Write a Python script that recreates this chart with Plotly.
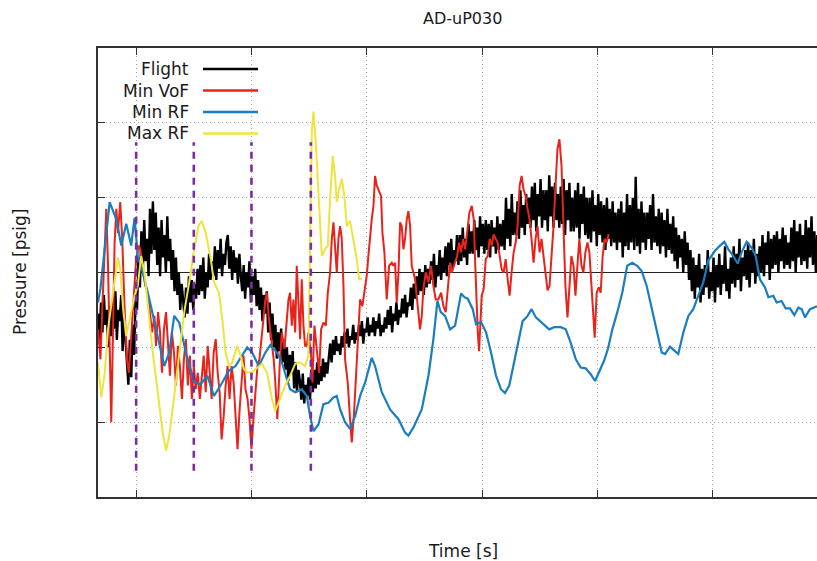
import plotly.graph_objects as go

# ---------------- data ----------------
TITLE = "AD-uP030"
X_LABEL = "Time [s]"
Y_LABEL = "Pressure [psig]"
SERIES_NAMES = ["Flight", "Min VoF", "Min RF", "Max RF"]

X_RANGE = [0.669, 6.905]
Y_RANGE = [-3, 3]

# Flight: sampled every FLIGHT_DT starting at FLIGHT_T0
FLIGHT_T0 = 0.67
FLIGHT_DT = 0.0125
FLIGHT_P = [
    -0.55, -0.95, -0.4, -0.8, -0.3, -0.7, -0.5, -1.0, -0.45, -0.85,
    -0.35, -0.75, -0.25, -0.9, -0.5, -0.65, -0.3, -1.05, -0.6, -0.95,
    -1.2, -1.5, -0.9, -1.4, -0.7, -1.1, -0.3, -0.5, 0.2, -0.2,
    0.55, 0.0, 0.7, 0.15, 0.45, -0.05, 0.85, 0.25, 0.95, 0.3,
    0.8, 0.1, 0.6, -0.05, 0.7, 0.2, 0.5, 0.0, 0.75, 0.15,
    0.45, -0.1, 0.3, -0.25, 0.2, -0.3, 0.0, -0.5, -0.15, -0.45,
    -0.6, -0.2, -0.55, -0.05, -0.4, -0.1, -0.5, -0.15, -0.35, 0.05,
    -0.3, 0.1, -0.25, 0.2, -0.35, 0.0, -0.2, 0.25, -0.1, 0.15,
    -0.05, 0.35, -0.1, 0.3, 0.05, 0.45, -0.05, 0.25, 0.1, 0.4,
    0.5, 0.05, 0.35, -0.1, 0.3, 0.0, 0.2, -0.15, 0.25, -0.05,
    -0.25, 0.1, -0.35, 0.0, -0.2, 0.15, -0.4, -0.05, -0.3, 0.05,
    -0.45, -0.1, -0.5, -0.2, -0.65, -0.3, -0.55, -0.25, -0.8, -0.4,
    -0.9, -0.55, -1.0, -0.7, -1.15, -0.8, -1.05, -0.75, -1.2, -0.9,
    -1.3, -1.0, -1.45, -1.1, -1.35, -1.05, -1.55, -1.2, -1.6, -1.3,
    -1.45, -1.7, -1.35, -1.75, -1.5, -1.65, -1.4, -1.7, -1.3, -1.6,
    -1.3, -1.55, -1.2, -1.5, -1.25, -1.45, -1.15, -1.4, -1.2, -1.35,
    -1.15, -0.95, -1.2, -0.9, -1.1, -0.85, -1.05, -0.95, -1.1, -0.85,
    -1.0, -0.8, -0.95, -0.75, -1.0, -0.85, -0.9, -0.7, -0.95, -0.8,
    -0.9, -0.7, -0.85, -0.65, -0.95, -0.75, -0.8, -0.6, -0.85, -0.7,
    -0.8, -0.6, -0.85, -0.65, -0.75, -0.55, -0.85, -0.7, -0.8, -0.6,
    -0.75, -0.5, -0.7, -0.45, -0.8, -0.55, -0.65, -0.4, -0.7, -0.5,
    -0.6, -0.35, -0.55, -0.3, -0.6, -0.4, -0.45, -0.2, -0.5, -0.15,
    -0.35, -0.05, -0.3, 0.05, -0.25, 0.0, -0.3, 0.1, -0.2, 0.05,
    -0.15, 0.15, -0.1, 0.25, -0.2, 0.1, -0.05, 0.3, -0.1, 0.2,
    0.0, 0.35, -0.05, 0.4, 0.1, 0.45, 0.05, 0.3, 0.15, 0.5,
    0.1, 0.5, 0.15, 0.6, 0.2, 0.45, 0.1, 0.65, 0.25, 0.55,
    0.25, 0.7, 0.3, 0.6, 0.2, 0.75, 0.35, 0.65, 0.25, 0.7,
    0.3, 0.65, 0.2, 0.7, 0.35, 0.6, 0.25, 0.75, 0.3, 0.65,
    0.35, 0.7, 0.3, 1.0, 0.45, 0.85, 0.35, 1.05, 0.5, 0.8,
    0.5, 0.95, 0.45, 1.1, 0.6, 0.9, 0.5, 1.05, 0.65, 1.0,
    0.6, 1.15, 0.7, 1.2, 0.55, 1.05, 0.75, 1.25, 0.6, 1.1,
    0.7, 1.1, 0.55, 1.3, 0.75, 1.15, 0.6, 1.2, 0.7, 1.05,
    0.6, 1.15, 0.65, 1.25, 0.5, 1.1, 0.7, 1.2, 0.55, 1.0,
    0.55, 1.1, 0.6, 1.2, 0.45, 1.05, 0.65, 1.15, 0.5, 1.0,
    0.45, 1.0, 0.4, 1.1, 0.55, 0.9, 0.35, 1.05, 0.5, 0.95,
    0.4, 0.9, 0.3, 1.0, 0.45, 0.85, 0.35, 0.95, 0.4, 0.8,
    0.3, 0.85, 0.4, 0.95, 0.2, 0.8, 0.35, 1.05, 0.3, 0.9,
    0.4, 1.0, 0.3, 1.28, 0.35, 0.85, 0.25, 0.95, 0.4, 0.8,
    0.3, 0.8, 0.45, 0.9, 0.3, 1.05, 0.4, 0.75, 0.35, 0.85,
    0.25, 0.8, 0.35, 0.7, 0.2, 0.85, 0.3, 0.65, 0.25, 0.75,
    0.15, 0.6, 0.05, 0.5, 0.2, 0.45, 0.0, 0.55, 0.1, 0.4,
    -0.1, 0.3, -0.25, 0.2, -0.35, 0.1, -0.2, 0.25, -0.4, 0.05,
    -0.3, 0.1, -0.2, 0.3, -0.35, 0.0, -0.25, 0.2, -0.4, 0.1,
    -0.2, 0.25, -0.3, 0.1, -0.15, 0.35, -0.25, 0.05, -0.35, 0.2,
    -0.15, 0.35, -0.2, 0.25, -0.1, 0.45, -0.25, 0.2, -0.05, 0.3,
    -0.1, 0.4, -0.2, 0.3, 0.0, 0.45, -0.15, 0.25, -0.05, 0.35,
    0.0, 0.5, -0.05, 0.4, 0.1, 0.55, -0.1, 0.45, 0.05, 0.5,
    0.1, 0.55, 0.0, 0.45, 0.15, 0.6, 0.05, 0.5, 0.1, 0.4,
    0.05, 0.6, 0.15, 0.7, 0.0, 0.55, 0.2, 0.65, 0.1, 0.5,
    0.15, 0.7, 0.05, 0.6, 0.2, 0.75, 0.1, 0.55, 0.0, 0.5,
]

MINVOF_T = [
    0.670, 0.690, 0.707, 0.727, 0.741, 0.756, 0.770, 0.784, 0.799, 0.813,
    0.828, 0.842, 0.862, 0.879, 0.899, 0.920, 0.937, 0.957, 0.977, 1.000,
    1.023, 1.037, 1.057, 1.080, 1.101, 1.121, 1.138, 1.158, 1.172, 1.190,
    1.207, 1.224, 1.241, 1.259, 1.276, 1.293, 1.310, 1.328, 1.345, 1.362,
    1.379, 1.397, 1.414, 1.431, 1.448, 1.466, 1.483, 1.500, 1.517, 1.534,
    1.552, 1.569, 1.586, 1.603, 1.621, 1.638, 1.655, 1.672, 1.690, 1.707,
    1.724, 1.741, 1.759, 1.776, 1.793, 1.810, 1.828, 1.845, 1.862, 1.879,
    1.897, 1.914, 1.931, 1.948, 1.966, 1.983, 2.000, 2.017, 2.034, 2.052,
    2.069, 2.086, 2.106, 2.121, 2.135, 2.149, 2.172, 2.193, 2.207, 2.224,
    2.246, 2.263, 2.286, 2.303, 2.321, 2.335, 2.350, 2.364, 2.379, 2.393,
    2.408, 2.422, 2.436, 2.451, 2.465, 2.480, 2.494, 2.517, 2.529, 2.546,
    2.566, 2.587, 2.604, 2.624, 2.645, 2.662, 2.682, 2.697, 2.711, 2.725,
    2.740, 2.754, 2.769, 2.783, 2.798, 2.812, 2.835, 2.855, 2.870, 2.890,
    2.913, 2.928, 2.942, 2.962, 2.980, 3.000, 3.014, 3.029, 3.043, 3.058,
    3.072, 3.087, 3.107, 3.124, 3.136, 3.153, 3.173, 3.194, 3.217, 3.231,
    3.246, 3.260, 3.275, 3.289, 3.303, 3.318, 3.332, 3.347, 3.361, 3.376,
    3.390, 3.419, 3.442, 3.462, 3.477, 3.491, 3.512, 3.535, 3.558, 3.578,
    3.598, 3.621, 3.645, 3.665, 3.685, 3.702, 3.723, 3.737,
    3.784, 3.801, 3.818, 3.836, 3.853, 3.870, 3.890, 3.911, 3.928, 3.939,
    3.951, 3.963, 3.974, 3.986, 3.997, 4.014, 4.032, 4.049, 4.066, 4.084,
    4.101, 4.118, 4.135, 4.153, 4.170, 4.187, 4.205, 4.222, 4.239, 4.256,
    4.274, 4.291, 4.308, 4.326, 4.343, 4.360, 4.378, 4.395, 4.412, 4.429,
    4.447, 4.464, 4.481, 4.499, 4.516, 4.533, 4.550, 4.568, 4.585, 4.602,
    4.620, 4.637, 4.654, 4.671, 4.689, 4.706, 4.723, 4.741, 4.758, 4.775,
    4.793, 4.810, 4.827, 4.844, 4.862, 4.879, 4.896, 4.914, 4.931, 4.948,
    4.965, 4.977, 4.994, 5.012, 5.029, 5.046, 5.063, 5.081, 5.098,
]
MINVOF_P = [
    -0.76, -1.16, -0.45, 0.36, 0.85, 0.09, -1.25, -2.00, -0.80, 0.40,
    0.85, 0.53, 0.94, 0.45, -0.45, -1.16, -1.34, -0.89, -0.45, 0.18,
    0.36, 0.31, 0.04, -0.18, -0.27, -0.53, -0.80, -0.58, -0.98, -0.53,
    -0.80, -1.34, -0.76, -0.53, -1.02, -1.38, -0.80, -1.07, -1.51, -0.98,
    -1.25, -1.69, -1.16, -0.89, -1.51, -1.11, -1.69, -1.25, -1.56, -1.34,
    -1.69, -1.38, -1.11, -1.60, -0.98, -1.34, -1.69, -1.07, -0.89, -1.34,
    -1.60, -2.23, -1.92, -1.51, -1.25, -1.69, -1.25, -1.47, -1.96, -2.36,
    -1.83, -1.47, -1.11, -1.56, -1.69, -1.96, -2.36, -1.96, -1.56, -1.25,
    -1.16, -0.89, -0.62, -0.36, -0.27, -0.58, -0.89, -1.16, -1.47, -1.96,
    -1.20, -0.80, -1.02, -0.71, -0.36, -0.27, -0.71, -0.36, -0.80, 0.09,
    -0.45, -0.89, -0.09, -0.71, -0.98, -0.98, -0.80, -1.11, -1.47, -0.71,
    -1.02, -1.34, -0.76, -0.67, -0.71, -0.27, 0.00, 0.45, 0.67, 0.27,
    0.00, 0.45, 0.62, 0.45, -0.18, -1.16, -1.47, -1.96, -2.27, -1.87,
    -1.25, -0.80, -0.36, -0.45, -0.27, -0.04, 0.22, 0.53, 0.71, 0.89,
    1.29, 1.16, 1.07, 1.02, 0.53, 0.27, -0.36, 0.09, 0.13, 0.09,
    0.13, -0.40, 0.00, 0.67, 0.62, 0.31, 0.45, 0.71, 0.82, 0.62,
    0.09, -0.09, -0.45, -0.76, -0.58, -0.22, 0.00, -0.13, 0.09, -0.18,
    -0.36, -0.36, -0.27, -0.45, -0.53, -0.18, 0.13, 0.00,
    0.22, 0.40, 0.27, 0.45, 0.31, 0.53, 0.80, 0.89, 0.71, 0.18,
    -0.36, -0.80, -1.05, -0.62, -0.31, -0.22, 0.18, 0.22, 0.45, 0.36,
    0.51, 0.45, 0.40, 0.22, 0.04, 0.00, 0.18, -0.09, -0.31, 0.00,
    0.27, 0.40, 0.62, 1.16, 1.29, 1.11, 1.02, 0.85, 0.71, 0.45,
    0.13, 0.45, 0.62, 0.27, 0.45, 0.22, 0.00, -0.24, -0.18, 0.18,
    0.62, 1.16, 1.65, 1.78, 1.43, 0.62, -0.18, -0.60, -0.18, 0.22,
    0.09, -0.31, 0.09, 0.45, 0.09, 0.00, 0.27, 0.40, 0.27, -0.18,
    -0.58, -0.87, -0.27, -0.20, -0.27, 0.22, 0.45, 0.40, 0.51,
]

MINRF_T = [
    0.669, 0.690, 0.770, 0.828, 0.871, 0.914, 0.957, 0.986, 1.014, 1.057,
    1.115, 1.187, 1.244, 1.287, 1.330, 1.374, 1.431, 1.503, 1.560, 1.618,
    1.675, 1.747, 1.805, 1.862, 1.920, 1.963, 2.006, 2.063, 2.121, 2.164,
    2.221, 2.263, 2.335, 2.379, 2.436, 2.480, 2.509, 2.538, 2.581, 2.624,
    2.668, 2.711, 2.740, 2.769, 2.812, 2.855, 2.899, 2.942, 2.986, 3.043,
    3.072, 3.130, 3.202, 3.275, 3.332, 3.361, 3.405, 3.477, 3.535, 3.578,
    3.613, 3.642, 3.679, 3.723, 3.766, 3.818, 3.847, 3.876, 3.919, 3.948,
    3.991, 4.035, 4.078, 4.121, 4.164, 4.199, 4.236, 4.280, 4.323, 4.352,
    4.395, 4.429, 4.467, 4.524, 4.582, 4.625, 4.683, 4.726, 4.769, 4.813,
    4.856, 4.899, 4.942, 4.980, 5.014, 5.058, 5.092, 5.130, 5.173, 5.216,
    5.259, 5.303, 5.345, 5.384, 5.428, 5.471, 5.514, 5.558, 5.587, 5.630,
    5.673, 5.702, 5.746, 5.789, 5.832, 5.876, 5.919, 5.962, 6.020, 6.064,
    6.101, 6.136, 6.179, 6.217, 6.251, 6.295, 6.338, 6.373, 6.410, 6.454,
    6.483, 6.526, 6.555, 6.598, 6.633, 6.671, 6.708, 6.743, 6.772, 6.801,
    6.844, 6.905,
]
MINRF_P = [
    -0.40, -0.22, 0.94, 0.71, 0.36, 0.65, 0.36, 0.73, 0.22, 0.00,
    -0.36, -0.85, -1.25, -1.07, -0.58, -0.67, -1.07, -1.47, -1.49, -1.38,
    -1.65, -1.47, -1.31, -1.25, -1.11, -1.00, -1.07, -1.25, -1.07, -0.97,
    -1.07, -1.20, -1.56, -1.60, -1.56, -1.65, -1.92, -2.12, -2.03, -1.76,
    -1.74, -1.67, -1.65, -1.83, -2.00, -2.09, -1.92, -1.65, -1.47, -1.14,
    -1.25, -1.60, -1.83, -1.96, -2.14, -2.18, -2.07, -1.83, -1.38, -0.89,
    -0.38, -0.53, -0.58, -0.76, -0.71, -0.28, -0.33, -0.35, -0.49, -0.69,
    -0.66, -0.80, -1.07, -1.38, -1.56, -1.61, -1.51, -1.20, -0.89, -0.65,
    -0.58, -0.49, -0.60, -0.68, -0.76, -0.73, -0.73, -0.76, -0.94, -1.16,
    -1.27, -1.28, -1.36, -1.45, -1.34, -1.18, -1.02, -0.76, -0.53, -0.27,
    0.09, 0.13, 0.09, 0.02, -0.18, -0.49, -0.80, -1.07, -1.09, -0.99,
    -1.05, -1.09, -0.80, -0.58, -0.49, -0.31, -0.13, 0.16, 0.29, 0.36,
    0.41, 0.31, 0.22, 0.12, 0.27, 0.41, 0.33, 0.22, -0.09, -0.20,
    -0.33, -0.31, -0.40, -0.38, -0.48, -0.48, -0.57, -0.47, -0.49, -0.60,
    -0.49, -0.45,
]

MAXRF_T = [
    0.669, 0.684, 0.698, 0.727, 0.756, 0.799, 0.842, 0.862, 0.885, 0.914,
    0.943, 0.986, 1.014, 1.043, 1.072, 1.101, 1.144, 1.187, 1.230, 1.259,
    1.287, 1.330, 1.374, 1.417, 1.460, 1.503, 1.540, 1.569, 1.603, 1.647,
    1.675, 1.718, 1.747, 1.776, 1.805, 1.833, 1.876, 1.905, 1.934, 1.963,
    2.006, 2.049, 2.092, 2.135, 2.178, 2.207, 2.249, 2.292, 2.335, 2.379,
    2.422, 2.465, 2.494, 2.509, 2.523, 2.538, 2.558, 2.581, 2.610, 2.639,
    2.662, 2.682, 2.705, 2.725, 2.740, 2.760, 2.783, 2.806, 2.827, 2.855,
    2.884, 2.913, 2.934, 2.962,
]
MAXRF_P = [
    -1.20, -1.43, -1.67, -1.34, -0.76, -0.27, 0.20, 0.04, -0.45, -0.85,
    -0.62, -0.31, -0.18, 0.22, 0.00, -0.45, -1.07, -1.60, -2.14, -2.38,
    -2.18, -1.65, -1.07, -0.53, -0.13, 0.31, 0.62, 0.69, 0.53, 0.18,
    -0.13, -0.27, -0.62, -1.07, -1.25, -1.20, -0.98, -1.11, -1.29, -1.34,
    -1.33, -1.28, -1.22, -1.34, -1.69, -1.85, -1.69, -1.51, -1.38, -1.22,
    -1.20, -1.25, -1.11, 0.53, 1.87, 2.15, 1.74, 1.07, 0.22, 0.31,
    0.36, 0.98, 1.56, 1.29, 0.94, 1.11, 1.25, 1.02, 0.62, 0.69,
    0.45, 0.18, -0.09, -0.08,
]

# vertical event markers (purple dashed)
MARKER_T = [1.0, 1.5, 2.0, 2.515]
MARKER_LOW = -2.65
MARKER_HIGH = 1.74

# ---------------- style ----------------
COLORS = ["#000000", "#e8231b", "#1a7dc0", "#eee43c"]
WIDTHS = [2.4, 2.0, 2.2, 2.0]
MARKER_COLOR = "#7a2d9c"
FONT = "DejaVu Sans"

W, H = 817, 561
ML, MR, MT, MB = 98, 0, 48, 64

fig = go.Figure()

flight_t = [FLIGHT_T0 + i * FLIGHT_DT for i in range(len(FLIGHT_P))]
series = [
    (flight_t, FLIGHT_P),
    (MINVOF_T, MINVOF_P),
    (MINRF_T, MINRF_P),
    (MAXRF_T, MAXRF_P),
]
for (tx, py), name, col, w in zip(series, SERIES_NAMES, COLORS, WIDTHS):
    fig.add_trace(go.Scatter(x=tx, y=py, mode="lines", name=name,
                             line=dict(color=col, width=w),
                             showlegend=False, hoverinfo="skip"))

for mt in MARKER_T:
    fig.add_trace(go.Scatter(x=[mt, mt], y=[MARKER_LOW, MARKER_HIGH], mode="lines",
                             line=dict(color=MARKER_COLOR, width=2.6, dash="7px,6px"),
                             showlegend=False, hoverinfo="skip"))

pw = W - ML - MR
ph = H - MT - MB


def px_to_paper(x, y):
    return (x - ML) / pw, (H - MB - y) / ph


annotations = []
shapes = []
# custom gnuplot-style key: right aligned text with sample line to the right
key_rows = [69, 90.5, 112, 133.5]
for name, col, ry in zip(SERIES_NAMES, COLORS, key_rows):
    tx, ty = px_to_paper(191, ry)
    annotations.append(dict(x=tx, y=ty, xref="paper", yref="paper", text=name,
                            showarrow=False, xanchor="right", yanchor="middle",
                            font=dict(family=FONT, size=17, color="#1a1a1a")))
    x0, yy = px_to_paper(203, ry)
    x1, _ = px_to_paper(258, ry)
    shapes.append(dict(type="line", xref="paper", yref="paper", x0=x0, x1=x1,
                       y0=yy, y1=yy, line=dict(color=col, width=2.6)))

tx, ty = px_to_paper(463, 18)
annotations.append(dict(x=tx, y=ty, xref="paper", yref="paper", text=TITLE,
                        showarrow=False, xanchor="center", yanchor="middle",
                        font=dict(family=FONT, size=16, color="#1a1a1a")))
tx, ty = px_to_paper(463, 551)
annotations.append(dict(x=tx, y=ty, xref="paper", yref="paper", text=X_LABEL,
                        showarrow=False, xanchor="center", yanchor="middle",
                        font=dict(family=FONT, size=17, color="#1a1a1a")))
tx, ty = px_to_paper(20, 272)
annotations.append(dict(x=tx, y=ty, xref="paper", yref="paper", text=Y_LABEL,
                        showarrow=False, xanchor="center", yanchor="middle",
                        textangle=-90,
                        font=dict(family=FONT, size=17, color="#1a1a1a")))

fig.update_layout(
    width=W, height=H,
    margin=dict(l=ML, r=MR, t=MT, b=MB, pad=0),
    paper_bgcolor="white", plot_bgcolor="white",
    showlegend=False,
    annotations=annotations, shapes=shapes,
    font=dict(family=FONT),
    xaxis=dict(range=X_RANGE, tick0=0, dtick=1, showticklabels=False,
               ticks="inside", ticklen=7, tickcolor="#333333", tickwidth=1,
               showline=True, linecolor="#333333", linewidth=1.5, mirror="allticks",
               showgrid=True, gridcolor="#a8a8a8", gridwidth=1, griddash="1px,3px",
               zeroline=False),
    yaxis=dict(range=Y_RANGE, tick0=0, dtick=1, showticklabels=False,
               ticks="inside", ticklen=7, tickcolor="#333333", tickwidth=1,
               showline=True, linecolor="#333333", linewidth=1.5, mirror=False,
               showgrid=True, gridcolor="#a8a8a8", gridwidth=1, griddash="1px,3px",
               zeroline=True, zerolinecolor="#222222", zerolinewidth=1),
)

fig.write_html("out.html")
